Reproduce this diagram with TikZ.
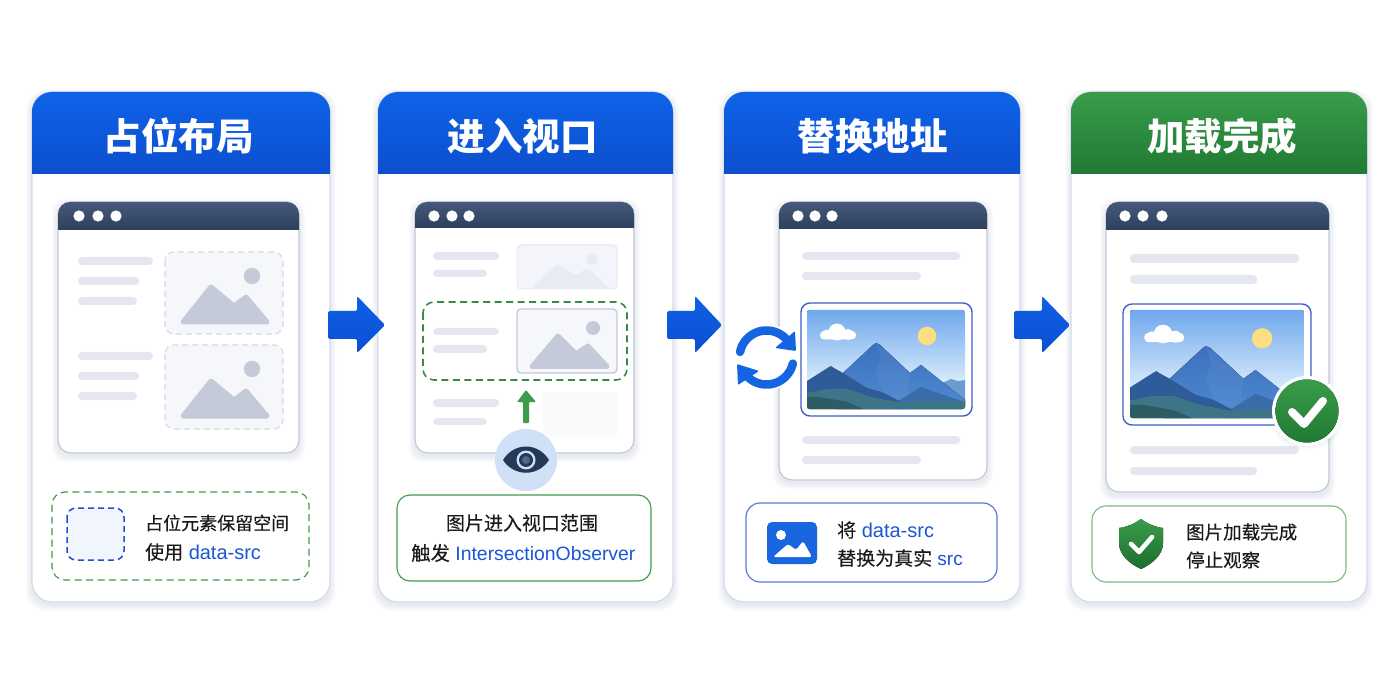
\documentclass[tikz,border=0pt]{standalone}
\usepackage{fontspec}
\setmainfont{Liberation Sans}
\newfontfamily\cjk{Noto Sans CJK SC}
\newfontfamily\cjkm[FakeBold=0.25]{Noto Sans CJK SC}
\usetikzlibrary{calc}
\definecolor{cardline}{HTML}{D3DCEE}
\definecolor{barcol}{HTML}{E4E7EF}
\definecolor{bluetxt}{HTML}{1A56D6}
\definecolor{inktxt}{HTML}{1B1B1F}
\definecolor{gline}{HTML}{3F9A4C}
\definecolor{shadowc}{HTML}{7F8FB5}
\definecolor{mtnc}{HTML}{C5CAD9}
\definecolor{ph}{HTML}{F6F7FB}
\definecolor{phline}{HTML}{D5D9E6}
\definecolor{phb}{HTML}{F1F5FD}
\definecolor{blued}{HTML}{2050CF}
\definecolor{phf}{HTML}{F3F5FA}
\definecolor{phfl}{HTML}{E6E9F2}
\definecolor{phm}{HTML}{E8EBF3}
\definecolor{phl}{HTML}{F9FAFC}
\definecolor{eyebg}{HTML}{CFE0F7}
\definecolor{eyed}{HTML}{263A58}
\definecolor{eyec}{HTML}{4F6A90}
\definecolor{frameb}{HTML}{3C62C8}
\definecolor{iconb}{HTML}{1A66E0}
\tikzset{
  x=1pt,y=-1pt,
  cardbox/.style={fill=white,draw=cardline,line width=1.3pt},
  titletxt/.style={text=white,font=\cjk\bfseries\fontsize{37.5}{42}\selectfont,inner sep=0pt},
  bodytxt/.style={text=inktxt,inner sep=0pt,align=left,font=\fontsize{19}{28}\selectfont},
  framebox/.style={fill=white,draw=#1,line width=1.4pt,rounded corners=9pt},
}
\newcommand{\Zh}[1]{{\cjkm #1}}
\newcommand{\Bl}[1]{{\color{bluetxt}#1}}
% soft shadow: x0 y0 x1 y1 radius
\newcommand{\softsh}[5]{%
  \foreach \ss in {1,...,8}{%
    \fill[shadowc,opacity=.02,rounded corners=#5pt]
      ($(#1,#2)+(-\ss*0.75,-\ss*0.75+3)$) rectangle ($(#3,#4)+(\ss*0.75,\ss*0.75+3)$);
  }}
% card: name x0 x1 topcolor botcolor title titlecentre
\newcommand{\cardbody}[7]{%
  \softsh{#2}{92}{#3}{602}{20}
  \path[cardbox,rounded corners=20pt] (#2,92) rectangle (#3,602);
  \path[top color=#4,bottom color=#5,rounded corners=20pt]
     (#2,174) -- (#2,92) -- (#3,92) [sharp corners] -- (#3,174) -- cycle;
  \node[titletxt] (#1) at (#7,136) {#6};
}
% browser: x0 x1 ybar ybot dot1 dot2 dot3
\newcommand{\browser}[7]{%
  \softsh{#1}{202}{#2}{#4}{13}
  \path[fill=white,draw=cardline!80!gray,line width=1.2pt,rounded corners=13pt] (#1,202) rectangle (#2,#4);
  \path[top color=barTop,bottom color=barBot,rounded corners=12pt]
     (#1,#3) -- (#1,202) -- (#2,202) [sharp corners] -- (#2,#3) -- cycle;
  \foreach \dx in {#5,#6,#7}{\fill[white] (\dx,216) circle[radius=5.6];}
}
\definecolor{barTop}{HTML}{46597A}
\definecolor{barBot}{HTML}{2C3F5B}
\newcommand{\lineb}[4]{\fill[barcol,rounded corners=3.8pt] (#1,#3) rectangle (#2,#4);}
% mono mountain: left right base p1x p1y vx vy p2x p2y (outline inset by the round stroke)
\newcommand{\mono}[9]{\path[fill=\mtnfill,draw=\mtnfill,line width=5pt,line join=round] (#1,#3) -- (#4,#5) -- (#6,#7) -- (#8,#9) -- (#2,#3) -- cycle;}
\newcommand{\mtnfill}{mtnc}
% realistic scene in unit box 158x99
\newcommand{\scene}[4]{%
 \begin{scope}[shift={(#1,#2)},xscale=#3,yscale=#4]
  \begin{scope}
   \clip[rounded corners=2.5pt] (0,0) rectangle (158,99);
   \fill[top color=skyA,bottom color=skyB] (0,0) rectangle (158,75);
   \fill[skyB] (0,70) rectangle (158,99);
   \fill[white,rounded corners=4pt] (13,21) rectangle (49,29.5);
   \fill[white] (30,22) circle[radius=8.5];
   \fill[white] (20,24.5) circle[radius=5];
   \fill[white] (41,24.5) circle[radius=5.5];
   \fill[sunc] (120,26) circle[radius=9.3];
   \fill[backm] (130,75) -- (144,69) -- (151,71) -- (158,70) -- (158,92) -- (130,92) -- cycle;
   \fill[top color=mA,bottom color=mB] (36,63) -- (66,35) -- (69,33) -- (73,35) -- (103,63) -- (114,55) -- (158,90) -- (158,99) -- (30,99) -- cycle;
   \fill[mC,opacity=.2] (69,33) -- (74,50) -- (68,62) -- (80,92) -- (100,92) -- (103,63) -- cycle;
   \fill[mD] (88,93) -- (114,77) -- (128,82) -- (158,92) -- (158,99) -- (88,99) -- cycle;
   \fill[mE] (0,71) -- (22,57) -- (24,56) -- (27,58) -- (36,63) -- (60,78) -- (75,82) -- (98,94) -- (98,99) -- (0,99) -- cycle;
   \fill[mF] (0,83) -- (20,79) -- (40,79) -- (64,87) -- (90,92) -- (158,91) -- (158,99) -- (0,99) -- cycle;
   \fill[mG] (0,87) -- (12,87) -- (24,89) -- (40,92) -- (56,99) -- (0,99) -- cycle;
  \end{scope}
 \end{scope}}
\definecolor{skyA}{HTML}{6FA8EC}
\definecolor{skyB}{HTML}{DCEEFC}
\definecolor{sunc}{HTML}{FBDF82}
\definecolor{backm}{HTML}{6C9BD2}
\definecolor{mA}{HTML}{3C70BE}
\definecolor{mB}{HTML}{4F8AD0}
\definecolor{mC}{HTML}{6B9BD6}
\definecolor{mD}{HTML}{3A6DA8}
\definecolor{mE}{HTML}{2F5C98}
\definecolor{mF}{HTML}{3D7488}
\definecolor{mG}{HTML}{2D5C63}
\newcommand{\bigarrow}[3]{% x0 xneck xtip
  \path[top color=arrT,bottom color=arrB,rounded corners=1.5pt]
   (#1,311) -- (#2,311) -- (#2,296) -- (#3,325) -- (#2,353) -- (#2,339) -- (#1,339) -- cycle;}
\definecolor{arrT}{HTML}{0F60E6}
\definecolor{arrB}{HTML}{0B4FD2}
\definecolor{hdT}{HTML}{0F62E8}
\definecolor{hdB}{HTML}{0C4FCE}
\definecolor{hgT}{HTML}{3A9C4A}
\definecolor{hgB}{HTML}{1F7A33}
\definecolor{syncc}{HTML}{1565E2}
\begin{document}
\begin{tikzpicture}
\useasboundingbox (0,0) rectangle (1400,700);
\fill[white] (0,0) rectangle (1400,700);

% ---------- cards
\cardbody{t1}{32}{330}{hdT}{hdB}{占位布局}{178.5}
\cardbody{t2}{378}{673}{hdT}{hdB}{进入视口}{522.5}
\cardbody{t3}{724}{1020}{hdT}{hdB}{替换地址}{872.5}
\cardbody{t4}{1071}{1367}{hgT}{hgB}{加载完成}{1222}

% ---------- card 1
\browser{58}{299}{230}{453}{79}{98}{116}
\lineb{78}{153}{257}{265}\lineb{78}{139}{277}{285}\lineb{78}{137}{297}{305}
\lineb{78}{153}{352}{360}\lineb{78}{139}{372}{380}\lineb{78}{137}{392}{400}
\path[fill=ph,draw=phline,line width=1.1pt,dash pattern=on 6pt off 4pt,rounded corners=9pt] (165,252) rectangle (283,334);
\path[fill=ph,draw=phline,line width=1.1pt,dash pattern=on 6pt off 4pt,rounded corners=9pt] (165,345) rectangle (283,429);
\fill[mtnc] (252,276) circle[radius=8.2];
\fill[mtnc] (252,369) circle[radius=8.2];
\mono{183}{267}{322}{211}{287}{234}{306}{246}{297}
\mono{183}{267}{416}{211}{381}{234}{400}{246}{391}
\path[draw=gline,line width=1.2pt,dash pattern=on 7pt off 4.5pt,rounded corners=13pt] (52,492) rectangle (309,580);
\path[fill=phb,draw=blued,line width=1.5pt,dash pattern=on 6pt off 4pt,rounded corners=9pt] (67,508) rectangle (124,560);
\node[bodytxt,anchor=west,font=\fontsize{18}{24}\selectfont] (c1a) at (145,523) {\Zh{占位元素保留空间}};
\node[bodytxt,anchor=west,font=\fontsize{20}{24}\selectfont] (c1b) at (145,552) {{\fontsize{19}{24}\selectfont\Zh{使用}} \Bl{data-src}};

% ---------- card 2
\browser{415}{634}{228}{453}{434}{452}{469}
\lineb{433}{499}{252}{260}\lineb{433}{487}{270}{277}
\path[fill=phf,draw=phfl,line width=1pt,rounded corners=4pt] (517,245) rectangle (617,289);
\begin{scope}
 \clip[rounded corners=4pt] (517,245) rectangle (617,288);
 \renewcommand{\mtnfill}{phm}
 \mono{532}{609}{292}{558}{267}{575}{278}{588}{271}
\end{scope}
\fill[phm] (592,259) circle[radius=6];
\fill[phl] (543,392) rectangle (617,437);
\lineb{433}{499}{399}{407}\lineb{433}{487}{418}{425}
\path[draw=gline!90!black,line width=1.6pt,dash pattern=on 7pt off 4.5pt,rounded corners=11pt] (423,302) rectangle (627,380);
\lineb{433}{499}{328}{335}\lineb{433}{487}{345}{353}
\path[fill=ph,draw=mtnc,line width=1.4pt,rounded corners=4pt] (517,309) rectangle (617,373);
\renewcommand{\mtnfill}{mtnc}
\fill[mtnc] (593,328) circle[radius=7];
\mono{532}{607}{366.5}{558}{336}{576}{354}{588}{346}
\fill[gline,rounded corners=.8pt] (526,390) -- (536,402) -- (529,402) -- (529,423) -- (523,423) -- (523,402) -- (517,402) -- cycle;
\fill[eyebg] (526,460) circle[radius=31];
\fill[eyed] (503,460) .. controls (514,442) and (538,442) .. (549,460) .. controls (538,477) and (514,477) .. cycle;
\fill[eyebg] (526,460) circle[radius=9.5];
\fill[eyed] (526,460) circle[radius=7];
\fill[eyec] (526,460) circle[radius=4];
\path[fill=white,draw=gline,line width=1.1pt,rounded corners=13pt] (397,495) rectangle (651,581);
\node[bodytxt] (c2a) at (522,523) {\Zh{图片进入视口范围}};
\node[bodytxt,anchor=west,font=\fontsize{19.4}{24}\selectfont] (c2b) at (411,553) {\Zh{触发} \Bl{IntersectionObserver}};

% ---------- card 3
\browser{779}{987}{229}{480}{798}{815}{832}
\lineb{802}{960}{252}{260}\lineb{802}{921}{272}{280}
\lineb{802}{960}{436}{444}\lineb{802}{921}{456}{464}
\fill[white] (766.5,357.5) circle[radius=33];
\path[framebox=frameb] (801,303) rectangle (972,416);
\scene{807}{310}{1}{1}
\draw[syncc,line width=8.5pt,line cap=round] plot[domain=168:45,samples=30,smooth] ({766.5+27*cos(\x)},{357.5-27*sin(\x)});
\fill[syncc,rounded corners=1pt] (795,331) -- (796,351) -- (775,348) -- cycle;
\draw[syncc,line width=8.5pt,line cap=round] plot[domain=-13:-135,samples=30,smooth] ({766.5+27*cos(\x)},{357.5-27*sin(\x)});
\fill[syncc,rounded corners=1pt] (737,364) -- (738,385) -- (759,371) -- cycle;
\path[fill=white,draw=frameb!85!white,line width=1.2pt,rounded corners=14pt] (746,503) rectangle (997,582);
\fill[iconb,rounded corners=5pt] (767,522) rectangle (817,564);
\fill[white] (781,535) circle[radius=5];
\fill[white,rounded corners=2.5pt] (773,557) -- (788,544) -- (796,550) -- (803,541) -- (812,557) -- cycle;
\node[bodytxt,anchor=west,font=\fontsize{20}{24}\selectfont] (c3a) at (837,530) {{\fontsize{19}{24}\selectfont\Zh{将}} \Bl{data-src}};
\node[bodytxt,anchor=west,font=\fontsize{19}{24}\selectfont] (c3b) at (837,558) {\Zh{替换为真实} \Bl{src}};

% ---------- card 4
\browser{1106}{1329}{230}{492}{1125}{1143}{1162}
\lineb{1130}{1299}{254}{263}\lineb{1130}{1257}{275}{284}
\lineb{1130}{1299}{446}{454}\lineb{1130}{1257}{467}{475}
\path[framebox=frameb] (1123,304) rectangle (1311,425);
\scene{1130}{310}{1.101}{1.091}
\softsh{1278}{382}{1336}{440}{29}
\fill[white] (1307,411) circle[radius=35];
\fill[top color=hgT,bottom color=hgB] (1307,411) circle[radius=31.5];
\draw[white,line width=8pt,line cap=round,line join=round] (1292,412) -- (1304,424) -- (1323,401);
\path[fill=white,draw=gline!70!white,line width=1.1pt,rounded corners=14pt] (1092,506) rectangle (1346,582);
\fill[top color=hgT,bottom color=hgB!90!black] (1141,519) .. controls (1134,524) and (1127,527) .. (1119,528) -- (1119,543) .. controls (1119,555) and (1130,564) .. (1141,569) .. controls (1152,564) and (1163,555) .. (1163,543) -- (1163,528) .. controls (1155,527) and (1148,524) .. (1141,519) -- cycle;
\draw[white,line width=4.6pt,line cap=round,line join=round] (1131,544) -- (1139,552) -- (1152,537);
\node[bodytxt,anchor=west,font=\fontsize{18.5}{24}\selectfont] (c4a) at (1186,532) {\Zh{图片加载完成}};
\node[bodytxt,anchor=west,font=\fontsize{18.5}{24}\selectfont] (c4b) at (1186,560) {\Zh{停止观察}};

% ---------- flow arrows
\bigarrow{328}{357}{385}
\bigarrow{667}{695}{722}
\bigarrow{1014}{1042}{1070}
\end{tikzpicture}
\end{document}
